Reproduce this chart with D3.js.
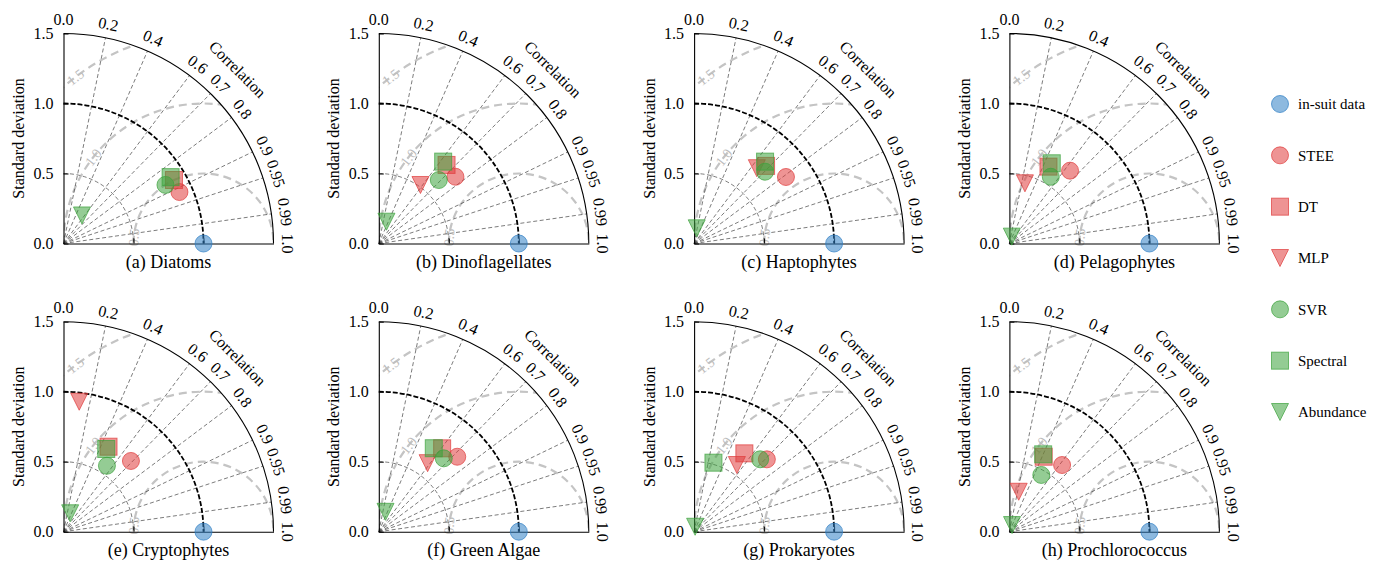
<html>
<head>
<script src="https://d3js.org/d3.v7.min.js"></script>
<style>
  body { margin: 0; background: #fff; }
  svg text { font-family: "Liberation Serif", "DejaVu Serif", serif !important; }
</style>
</head>
<body>
<div id="chart"></div>
<script>
// panel titles
const panelTitles = ["(a) Diatoms", "(b) Dinoflagellates", "(c) Haptophytes", "(d) Pelagophytes",
  "(e) Cryptophytes", "(f) Green Algae", "(g) Prokaryotes", "(h) Prochlorococcus"];

// normalised std of in-situ data (reference)
const refStd = [1, 1, 1, 1, 1, 1, 1, 1];

// model std / correlation, one value per panel
const steeStd = [0.906, 0.726, 0.81, 0.677, 0.698, 0.775, 0.733, 0.607];
const steeCor = [0.914, 0.754, 0.81, 0.64, 0.69, 0.723, 0.709, 0.62];
const dtStd = [0.91, 0.741, 0.756, 0.616, 0.687, 0.748, 0.665, 0.589];
const dtCor = [0.867, 0.653, 0.68, 0.453, 0.468, 0.605, 0.54, 0.416];
const mlpStd = [null, 0.513, 0.70, 0.444, 0.935, 0.601, 0.566, 0.293];
const mlpCor = [null, 0.58, 0.64, 0.25, 0.12, 0.58, 0.54, 0.227];
const svrStd = [0.84, 0.624, 0.721, 0.561, 0.564, 0.70, 0.70, 0.465];
const svrCor = [0.867, 0.687, 0.703, 0.527, 0.55, 0.663, 0.674, 0.49];
const specStd = [0.90, 0.744, 0.774, 0.648, 0.665, 0.714, 0.512, 0.603];
const specCor = [0.85, 0.618, 0.655, 0.467, 0.459, 0.55, 0.27, 0.40];
const abunStd = [0.24, 0.165, 0.11, 0.052, 0.14, 0.15, 0.036, 0.051];
const abunCor = [0.55, 0.33, 0.17, 0.33, 0.34, 0.32, 0.2, 0.37];

// axis ticks
const corrTicks = [0, 0.2, 0.4, 0.6, 0.7, 0.8, 0.9, 0.95, 0.99, 1.0];
const stdTicks = [0, 0.5, 1.0, 1.5];
const rmsLevels = [0.5, 1.0, 1.5];

const RED = "#e03c3c", GREEN = "#3da23d", BLUE = "#2f7fc4";

const series = [
  { name: "in-suit data", std: refStd, cor: refStd.map(() => 1), shape: "circle", color: BLUE },
  { name: "STEE", std: steeStd, cor: steeCor, shape: "circle", color: RED },
  { name: "DT", std: dtStd, cor: dtCor, shape: "square", color: RED },
  { name: "MLP", std: mlpStd, cor: mlpCor, shape: "triangle", color: RED },
  { name: "SVR", std: svrStd, cor: svrCor, shape: "circle", color: GREEN },
  { name: "Spectral", std: specStd, cor: specCor, shape: "square", color: GREEN },
  { name: "Abundance", std: abunStd, cor: abunCor, shape: "triangle", color: GREEN }
];

const W = 1386, H = 564;
const R = 210;
const FONT = "'Liberation Serif', 'DejaVu Serif', serif";
const originsX = [63.5, 378.8, 694.1, 1009.4];
const originsY = [243.5, 531.7];

const svg = d3.select("#chart").append("svg").attr("width", W).attr("height", H)
  .attr("font-family", FONT);

const r = d3.scaleLinear().domain([0, 1.5]).range([0, R]);
const yAx = d3.scaleLinear().domain([0, 1.5]).range([0, -R]);

const defs = svg.append("defs");
defs.append("clipPath").attr("id", "quad")
  .append("path")
  .attr("d", () => { const p = d3.path(); p.moveTo(0, 0); p.lineTo(0, -R); p.arc(0, 0, R, -Math.PI / 2, 0); p.closePath(); return p.toString(); });

function arcPath(cx, rad, a0, a1) {
  const p = d3.path();
  p.arc(cx, 0, rad, a0, a1);
  return p.toString();
}

function marker(g, shape, color, x, y, s) {
  let m;
  if (shape === "circle") {
    m = g.append("circle").attr("cx", x).attr("cy", y).attr("r", s);
  } else if (shape === "square") {
    m = g.append("rect").attr("x", x - s).attr("y", y - s).attr("width", 2 * s).attr("height", 2 * s);
  } else {
    m = g.append("path").attr("d", `M${x - s},${y - s}L${x + s},${y - s}L${x},${y + s}Z`);
  }
  m.attr("fill", color).attr("fill-opacity", 0.55).attr("stroke", color).attr("stroke-opacity", 0.7).attr("stroke-width", 1);
}

panelTitles.forEach((title, i) => {
  const ox = originsX[i % 4], oy = originsY[Math.floor(i / 4)];
  const g = svg.append("g").attr("transform", `translate(${ox},${oy})`);

  // RMS contours (light grey)
  const rms = g.append("g").attr("clip-path", "url(#quad)");
  rmsLevels.forEach(lv => {
    rms.append("path")
      .attr("d", arcPath(r(1), r(lv), -Math.PI, 0))
      .attr("fill", "none").attr("stroke", "#c4c4c4").attr("stroke-width", 2.2)
      .attr("stroke-dasharray", "8,5");
  });
  // contour labels
  const rmsLabelAng = { 0.5: 175, 1.0: 142, 1.5: 127.6 };
  rmsLevels.forEach(lv => {
    const a = rmsLabelAng[lv] * Math.PI / 180;
    const x = r(1) + r(lv) * Math.cos(a), y = -r(lv) * Math.sin(a);
    g.append("text").attr("transform", `translate(${x},${y}) rotate(${-(rmsLabelAng[lv] - 90)})`)
      .attr("text-anchor", "middle").attr("dy", "0.35em")
      .attr("font-size", 14).attr("fill", "#bdbdbd").text(d3.format(".1f")(lv));
  });

  // correlation rays
  corrTicks.filter(c => c > 0 && c < 1).forEach(c => {
    const th = Math.acos(c);
    g.append("line").attr("x1", 0).attr("y1", 0)
      .attr("x2", R * Math.cos(th)).attr("y2", -R * Math.sin(th))
      .attr("stroke", "#444").attr("stroke-width", 0.7).attr("stroke-dasharray", "4,2.5");
  });

  // std arcs
  g.append("path").attr("d", arcPath(0, r(0.5), -Math.PI / 2, 0))
    .attr("fill", "none").attr("stroke", "#444").attr("stroke-width", 0.7).attr("stroke-dasharray", "4,2.5");
  g.append("path").attr("d", arcPath(0, r(1.0), -Math.PI / 2, 0))
    .attr("fill", "none").attr("stroke", "#000").attr("stroke-width", 1.8).attr("stroke-dasharray", "5,2");
  g.append("path").attr("d", arcPath(0, r(1.5), -Math.PI / 2, 0))
    .attr("fill", "none").attr("stroke", "#000").attr("stroke-width", 1.1);

  // std axes
  const ya = g.append("g").call(d3.axisLeft(yAx).tickValues(stdTicks).tickFormat(d3.format(".1f"))
    .tickSizeInner(-5).tickSizeOuter(0).tickPadding(10));
  ya.attr("font-family", FONT);
  ya.selectAll("text").attr("font-size", 16).attr("fill", "#000");
  ya.select(".domain").attr("stroke-width", 1.1);
  const xa = g.append("g").call(d3.axisBottom(r).tickValues([0.5, 1.0]).tickFormat("")
    .tickSizeInner(-5).tickSizeOuter(0));
  xa.select(".domain").attr("stroke-width", 1.1);

  g.append("text").attr("transform", `translate(-45,${-R / 2}) rotate(-90)`)
    .attr("text-anchor", "middle").attr("dy", "0.35em").attr("font-size", 16).text("Standard deviation");

  // correlation labels
  corrTicks.forEach(c => {
    const th = Math.acos(c);
    const rl = r(1.6);
    g.append("text")
      .attr("transform", `translate(${rl * Math.cos(th)},${-rl * Math.sin(th)}) rotate(${90 - th * 180 / Math.PI})`)
      .attr("text-anchor", "middle").attr("dy", "0.35em").attr("font-size", 16)
      .text(c === 0 || c === 1 ? d3.format(".1f")(c) : String(c));
  });
  const ca = Math.PI / 4, rc = r(1.76);
  g.append("text").attr("transform", `translate(${rc * Math.cos(ca)},${-rc * Math.sin(ca)}) rotate(45)`)
    .attr("text-anchor", "middle").attr("dy", "0.35em").attr("font-size", 16).text("Correlation");

  // points
  series.forEach(s => {
    const sd = s.std[i], c = s.cor[i];
    if (sd == null) return;
    const th = Math.acos(c);
    marker(g, s.shape, s.color, r(sd * Math.cos(th)), -r(sd * Math.sin(th)), 8.5);
  });

  g.append("text").attr("x", r(0.75)).attr("y", 24).attr("text-anchor", "middle")
    .attr("font-size", 18).text(title);
});

// legend
const legendY = d3.scaleLinear().domain([0, series.length - 1]).range([104, 412]);
series.forEach((s, k) => {
  const y = legendY(k);
  marker(svg, s.shape, s.color, 1280, y, 8.5);
  svg.append("text").attr("x", 1298).attr("y", y).attr("dy", "0.35em").attr("font-size", 15).text(s.name);
});
</script>
</body>
</html>
